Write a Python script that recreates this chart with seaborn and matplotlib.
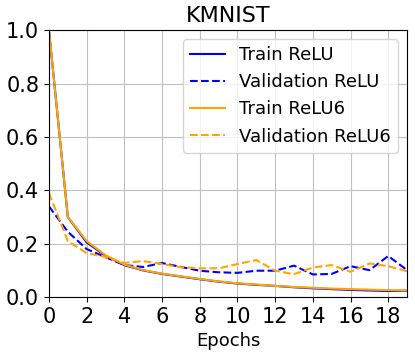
import numpy as np
import pandas as pd
import seaborn as sns
import matplotlib
matplotlib.use("Agg")
import matplotlib.pyplot as plt

# Loss curves (KMNIST)
epochs = list(range(20))
train_relu = [1.0, 0.30, 0.205, 0.155, 0.12, 0.10, 0.087, 0.077, 0.067, 0.058,
              0.051, 0.046, 0.042, 0.037, 0.033, 0.030, 0.027, 0.025, 0.023, 0.024]
val_relu = [0.34, 0.245, 0.18, 0.15, 0.12, 0.113, 0.128, 0.113, 0.099, 0.093,
            0.091, 0.099, 0.099, 0.118, 0.085, 0.087, 0.116, 0.101, 0.154, 0.101]
train_relu6 = [1.0, 0.30, 0.21, 0.157, 0.122, 0.101, 0.088, 0.078, 0.068, 0.059,
               0.052, 0.047, 0.042, 0.038, 0.035, 0.032, 0.030, 0.028, 0.026, 0.025]
val_relu6 = [0.39, 0.21, 0.165, 0.15, 0.128, 0.135, 0.124, 0.112, 0.108, 0.108,
             0.124, 0.139, 0.099, 0.086, 0.111, 0.12, 0.095, 0.126, 0.116, 0.097]

series = [
    ("Train ReLU", train_relu, "blue", "-"),
    ("Validation ReLU", val_relu, "blue", "--"),
    ("Train ReLU6", train_relu6, "orange", "-"),
    ("Validation ReLU6", val_relu6, "orange", "--"),
]

fig = plt.figure(figsize=(4.15, 3.55), dpi=100)
ax = fig.add_axes([0.118, 0.163, 0.863, 0.752])

for label, values, color, ls in series:
    sns.lineplot(x=epochs, y=values, ax=ax, label=label, color=color,
                 linestyle=ls, linewidth=1.5)

ax.set_xlim(0, 19)
ax.set_ylim(0, 1.0)
ax.set_xticks(range(0, 19, 2))
ax.set_yticks(np.arange(0, 1.01, 0.2))
ax.grid(True, color="#c0c0c0", linewidth=0.8)
ax.tick_params(labelsize=15)
ax.set_xlabel("Epochs", fontsize=13)
ax.set_title("KMNIST", fontsize=16)
ax.legend(loc="upper right", fontsize=13, handlelength=1.9)

plt.savefig("out.png", dpi=100)
